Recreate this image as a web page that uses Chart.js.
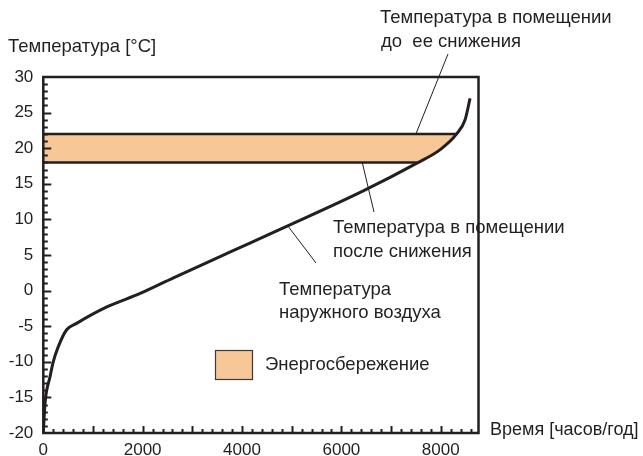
<!DOCTYPE html>
<html>
<head>
<meta charset="utf-8">
<script src="https://cdn.jsdelivr.net/npm/chart.js@4/dist/chart.umd.min.js"></script>
<style>
  html, body { margin: 0; padding: 0; background: #fff; }
  canvas { display: block; }
</style>
</head>
<body>
<canvas id="durationChart" width="643" height="456"></canvas>
<script>
// outdoor air temperature duration curve, hours per year
const hours = [0, 35, 135, 200, 300, 470, 670, 1280, 1950, 2620, 3820, 4830, 6440, 7520, 7990, 8320, 8490, 8590];
const outdoorTemp = [-20, -15.8, -12.1, -10, -7.9, -5.5, -4.6, -2.3, -0.4, 1.8, 5.6, 8.8, 14.0, 17.9, 19.8, 22, 24, 27];

// indoor set points before / after setback
const indoorBefore = 22;
const indoorAfter = 18;
const beforeEndHour = 8320;   // where the curve reaches 22
const afterEndHour = 7520;    // where the curve reaches 18

// savings band outline: along 22, back down the curve, along 18
const bandHours = [0, beforeEndHour, 7990, afterEndHour, 0];
const bandTemp = [indoorBefore, indoorBefore, 19.8, indoorAfter, indoorAfter];

const xTicks = [0, 2000, 4000, 6000, 8000];
const yTicks = [-20, -15, -10, -5, 0, 5, 10, 15, 20, 25, 30];
const hoursPerYear = 8760;

const FONT = '"Liberation Sans", Arial, sans-serif';
const INK = '#231f20';
const BAND = '#f7c797';

const toXY = (xs, ys) => xs.map((x, i) => ({ x: x, y: ys[i] }));

// frame, inward ticks, notes and legend
const decor = {
  id: 'decor',
  afterDatasetsDraw(chart) {
    const { ctx, chartArea: a, scales: { x, y } } = chart;
    ctx.save();
    ctx.strokeStyle = INK;
    ctx.lineCap = 'butt';

    // minor/major ticks on the y axis
    ctx.lineWidth = 2;
    for (let t = -19; t < 30; t++) {
      const py = Math.round(y.getPixelForValue(t)) + 0.5;
      const len = t % 5 === 0 ? 8 : 4.5;
      ctx.beginPath();
      ctx.moveTo(a.left, py);
      ctx.lineTo(a.left + len, py);
      ctx.stroke();
    }
    // and on the x axis
    for (let h = 200; h < hoursPerYear; h += 200) {
      const px = Math.round(x.getPixelForValue(h)) + 0.5;
      const len = h % 1000 === 0 ? 7 : 4;
      ctx.beginPath();
      ctx.moveTo(px, a.bottom);
      ctx.lineTo(px, a.bottom - len);
      ctx.stroke();
    }

    ctx.lineWidth = 2.5;
    ctx.strokeRect(a.left, a.top, a.right - a.left, a.bottom - a.top);

    // leader lines
    ctx.lineWidth = 1;
    const leader = (x1, y1, hx, ty) => {
      ctx.beginPath();
      ctx.moveTo(x1, y1);
      ctx.lineTo(x.getPixelForValue(hx), y.getPixelForValue(ty));
      ctx.stroke();
    };
    leader(448, 54, 7500, indoorBefore);
    leader(374, 212, 6420, indoorAfter);
    leader(316, 263, 4920, 9.1);

    // notes
    ctx.fillStyle = INK;
    ctx.font = '18.5px ' + FONT;
    ctx.textBaseline = 'middle';
    ctx.textAlign = 'left';
    ctx.fillText('Температура в помещении', 380, 18);
    ctx.fillText('до  ее снижения', 381, 42);
    ctx.fillText('Температура в помещении', 333, 228);
    ctx.fillText('после снижения', 333, 252);
    ctx.fillText('Температура', 279, 290);
    ctx.fillText('наружного воздуха', 279, 313);
    ctx.fillText('Температура [°C]', 8, 47);
    ctx.fillText('Энергосбережение', 265, 365);
    ctx.font = '18px ' + FONT;
    ctx.fillText('Время [часов/год]', 490, 430);

    // legend swatch
    ctx.fillStyle = BAND;
    ctx.fillRect(215, 350, 37, 29);
    ctx.strokeStyle = '#3a3a3a';
    ctx.lineWidth = 1.2;
    ctx.strokeRect(215.5, 350.5, 37, 29);
    ctx.restore();
  }
};

new Chart(document.getElementById('durationChart'), {
  type: 'line',
  data: {
    datasets: [
      {
        label: 'Энергосбережение',
        data: toXY(bandHours, bandTemp),
        backgroundColor: BAND,
        borderWidth: 0,
        pointRadius: 0,
        fill: 'shape',
        tension: 0,
        order: 3
      },
      {
        label: 'до снижения',
        data: toXY([0, beforeEndHour], [indoorBefore, indoorBefore]),
        borderColor: INK,
        borderWidth: 2.5,
        pointRadius: 0,
        fill: false,
        order: 2
      },
      {
        label: 'после снижения',
        data: toXY([0, afterEndHour], [indoorAfter, indoorAfter]),
        borderColor: INK,
        borderWidth: 2.5,
        pointRadius: 0,
        fill: false,
        order: 2
      },
      {
        label: 'Температура наружного воздуха',
        data: toXY(hours, outdoorTemp),
        borderColor: INK,
        borderWidth: 3,
        pointRadius: 0,
        fill: false,
        cubicInterpolationMode: 'monotone',
        order: 1
      }
    ]
  },
  options: {
    responsive: false,
    animation: false,
    layout: { padding: { left: 0, top: 77, right: 164.5, bottom: 0 } },
    plugins: { legend: { display: false }, tooltip: { enabled: false } },
    scales: {
      x: {
        type: 'linear',
        min: 0,
        max: hoursPerYear,
        grid: { display: false, drawTicks: false },
        border: { display: false },
        afterFit(s) { s.height = 23; },
        afterBuildTicks(s) { s.ticks = xTicks.map(v => ({ value: v })); },
        ticks: {
          color: INK, padding: 7, maxRotation: 0,
          font: { family: FONT, size: 17 },
          callback: v => String(v)
        }
      },
      y: {
        min: -20,
        max: 30,
        grid: { display: false, drawTicks: false },
        border: { display: false },
        afterFit(s) { s.width = 43.3; },
        afterBuildTicks(s) { s.ticks = yTicks.map(v => ({ value: v })); },
        ticks: {
          color: INK, padding: 10,
          font: { family: FONT, size: 17 },
          callback: v => String(v)
        }
      }
    }
  },
  plugins: [decor]
});
</script>
</body>
</html>
